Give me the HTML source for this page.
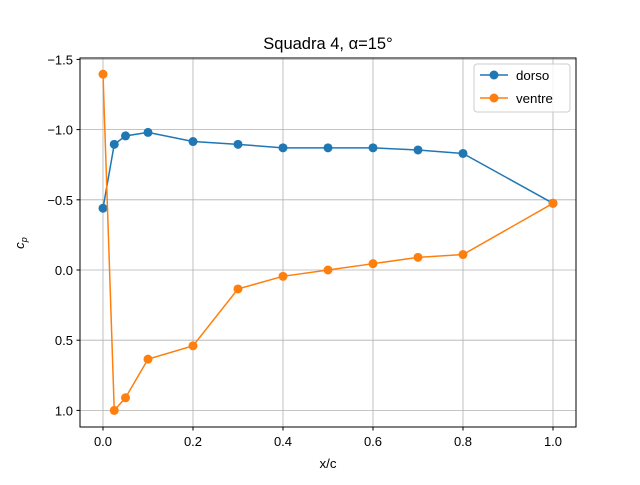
<!DOCTYPE html>
<html><head><meta charset="utf-8"><style>
body{margin:0;background:#fff}
svg text{font-family:"Liberation Sans","DejaVu Sans",sans-serif;fill:#000}
</style></head><body>
<svg id="chart" width="640" height="480" viewBox="0 0 640 480">
<rect x="0" y="0" width="640" height="480" fill="#fff"/>
<g id="grid"></g>
<g id="ticks"></g>
<g id="series"></g>
<rect x="80" y="58" width="496" height="369" fill="none" stroke="#000" stroke-width="1"/>
<text x="328" y="49" font-size="16.5" text-anchor="middle">Squadra 4, α=15°</text>
<text x="328" y="468" font-size="13.3" text-anchor="middle">x/c</text>
<text transform="translate(24,243) rotate(-90)" font-size="13.3" text-anchor="middle" font-style="italic">c<tspan font-size="9" dy="3">p</tspan></text>
<g>
<rect x="474" y="64" width="96" height="48" rx="3" fill="#fff" fill-opacity="0.8" stroke="#ccc"/>
<g>
<line x1="480" y1="75" x2="508" y2="75" stroke="#1f77b4" stroke-width="1.5"/>
<circle cx="494" cy="75" r="4.5" fill="#1f77b4"/>
<text x="516" y="80" font-size="13.3">dorso</text></g>
<g>
<line x1="480" y1="98" x2="508" y2="98" stroke="#ff7f0e" stroke-width="1.5"/>
<circle cx="494" cy="98" r="4.5" fill="#ff7f0e"/>
<text x="516" y="103" font-size="13.3">ventre</text></g>
</g>
</svg>
<script>
const xVals=[0,0.025,0.05,0.1,0.2,0.3,0.4,0.5,0.6,0.7,0.8,1.0];
const dorso=[-0.44,-0.895,-0.955,-0.98,-0.915,-0.895,-0.87,-0.87,-0.87,-0.855,-0.83,-0.475];
const ventre=[-1.395,1.0,0.91,0.635,0.54,0.135,0.045,0,-0.045,-0.09,-0.11,-0.475];
const xTicks=[0,0.2,0.4,0.6,0.8,1.0];
const xTickLabels=["0.0","0.2","0.4","0.6","0.8","1.0"];
const yTicks=[-1.5,-1.0,-0.5,0,0.5,1.0];
const yTickLabels=["−1.5","−1.0","−0.5","0.0","0.5","1.0"];
const NS="http://www.w3.org/2000/svg";
const X=v=>103+v*450;
const Y=v=>270+v*140.4;
function mk(t,a,p){const e=document.createElementNS(NS,t);for(const k in a)e.setAttribute(k,a[k]);p.appendChild(e);return e;}
const grid=document.getElementById('grid'),ticks=document.getElementById('ticks'),series=document.getElementById('series');
xTicks.forEach((v,i)=>{
 const g=mk('line',{x1:X(v),x2:X(v),y1:58,y2:427,stroke:'#b0b0b0','stroke-width':0.8},grid);
 
 
 mk('line',{x1:X(v),x2:X(v),y1:427,y2:430.5,stroke:'#000'},ticks);
 const t=mk('text',{x:X(v),y:446,'font-size':13,'text-anchor':'middle'},ticks);t.textContent=xTickLabels[i];
 
 
});
yTicks.forEach((v,i)=>{
 const g=mk('line',{x1:80,x2:576,y1:Y(v),y2:Y(v),stroke:'#b0b0b0','stroke-width':0.8},grid);
 
 
 mk('line',{x1:76.5,x2:80,y1:Y(v),y2:Y(v),stroke:'#000'},ticks);
 const t=mk('text',{x:73,y:Y(v)+5,'font-size':13,'text-anchor':'end'},ticks);t.textContent=yTickLabels[i];
 
 
});
function draw(vals,color,name){
 const g=mk('g',{},series);
 
 
 const pl=mk('polyline',{points:xVals.map((x,i)=>X(x)+','+Y(vals[i])).join(' '),fill:'none',stroke:color,'stroke-width':1.5},g);
 
 
 xVals.forEach((x,i)=>{
  const c=mk('circle',{cx:X(x),cy:Y(vals[i]),r:4.5,fill:color},g);
  
  
 });
}
draw(dorso,'#1f77b4','dorso');
draw(ventre,'#ff7f0e','ventre');
</script>
</body></html>
